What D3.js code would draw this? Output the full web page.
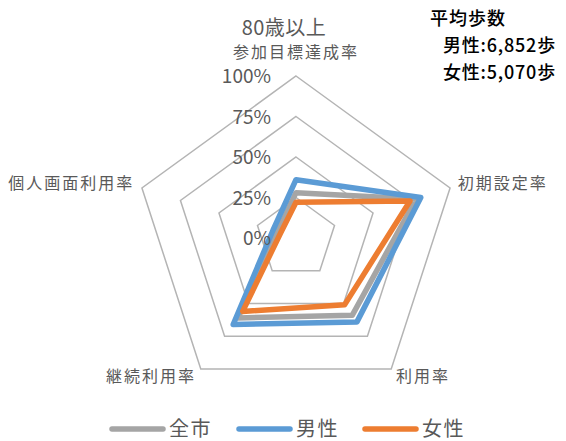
<!DOCTYPE html>
<html>
<head>
<meta charset="utf-8">
<script src="https://cdn.jsdelivr.net/npm/d3@7"></script>
<style>
  body { margin: 0; background: #fff; }
  text { font-family: "Noto Sans CJK JP", "Noto Sans", sans-serif; }
</style>
</head>
<body>
<div id="chart"></div>
<script>
const axisLabels = ["参加目標達成率", "初期設定率", "利用率", "継続利用率", "個人画面利用率"];
const seriesNames = ["全市", "男性", "女性"];
const cityValues = [0.28, 0.78, 0.59, 0.61, 0.12];
const maleValues = [0.36, 0.81, 0.64, 0.66, 0.15];
const femaleValues = [0.22, 0.74, 0.51, 0.56, 0.10];
const tickValues = [0, 0.25, 0.5, 0.75, 1];
const tickLabels = ["0%", "25%", "50%", "75%", "100%"];
const colors = ["#A5A5A5", "#5B9BD5", "#ED7D31"];
const title = "80歳以上";
const noteLines = ["平均歩数", "男性:6,852歩", "女性:5,070歩"];

const width = 566, height = 441;
const cx = 296, cy = 238, R = 162;

const svg = d3.select("#chart")
  .append("svg")
  .attr("width", width)
  .attr("height", height);

// Scales
const r = d3.scaleLinear().domain([0, 1]).range([0, R]);
const angle = d3.scalePoint()
  .domain(d3.range(axisLabels.length + 1))
  .range([0, 2 * Math.PI]);

const g = svg.append("g").attr("transform", `translate(${cx},${cy})`);

// Grid rings (pentagons)
const ring = d3.lineRadial()
  .angle((d, i) => angle(i))
  .radius((d) => r(d))
  .curve(d3.curveLinearClosed);

g.selectAll(".ring")
  .data(tickValues.filter((t) => t > 0))
  .enter()
  .append("path")
  .attr("class", "ring")
  .attr("d", (t) => ring(axisLabels.map(() => t)))
  .attr("fill", "none")
  .attr("stroke", "#B4B4B4")
  .attr("stroke-width", 1.5);

// Series
const series = [cityValues, maleValues, femaleValues];
g.selectAll(".series")
  .data(series)
  .enter()
  .append("path")
  .attr("class", "series")
  .attr("d", (vals) => ring(vals))
  .attr("fill", "none")
  .attr("stroke", (d, i) => colors[i])
  .attr("stroke-width", 5.5)
  .attr("stroke-linejoin", "round");

// Tick labels
g.selectAll(".tick")
  .data(tickValues)
  .enter()
  .append("text")
  .attr("x", -25)
  .attr("y", (t) => -r(t) + 7)
  .attr("text-anchor", "end")
  .attr("font-size", 19)
  .attr("fill", "#595959")
  .text((t, i) => tickLabels[i]);

// Axis labels
g.selectAll(".axis-label")
  .data(axisLabels)
  .enter()
  .append("text")
  .attr("class", "axis-label")
  .each(function (d, i) {
    const a = angle(i);
    const s = Math.sin(a), c = Math.cos(a);
    let x = s * (R + 8), y = -c * (R + 8);
    let anchor = "middle";
    if (s > 0.1) anchor = "start";
    if (s < -0.1) anchor = "end";
    if (c > 0.9) y = -R - 18;
    else if (c > 0) y += 4;
    else y += 6;
    d3.select(this)
      .attr("x", x)
      .attr("y", y)
      .attr("text-anchor", anchor);
  })
  .attr("font-size", 16)
  .attr("letter-spacing", 2)
  .attr("fill", "#595959")
  .text((d) => d);

// Title
svg.append("text")
  .attr("x", 284)
  .attr("y", 35)
  .attr("text-anchor", "middle")
  .attr("font-size", 20)
  .attr("letter-spacing", 0.5)
  .attr("fill", "#595959")
  .text(title);

// Note (top right)
svg.selectAll(".note")
  .data(noteLines)
  .enter()
  .append("text")
  .attr("x", (d, i) => (i === 0 ? 430 : 443))
  .attr("y", (d, i) => 25 + i * 27)
  .attr("font-size", 18)
  .attr("font-weight", 500)
  .attr("letter-spacing", (d, i) => (i === 0 ? 1 : 0.8))
  .attr("fill", "#000")
  .text((d) => d);

// Legend
const legendX = [110, 237, 363];
const legend = svg.selectAll(".legend")
  .data(seriesNames)
  .enter()
  .append("g")
  .attr("transform", (d, i) => `translate(${legendX[i]},429)`);

legend.append("line")
  .attr("x1", 2).attr("x2", 53)
  .attr("y1", 0).attr("y2", 0)
  .attr("stroke", (d, i) => colors[i])
  .attr("stroke-width", 5.5)
  .attr("stroke-linecap", "round");

legend.append("text")
  .attr("x", 59)
  .attr("y", 7)
  .attr("font-size", 20)
  .attr("letter-spacing", 1.5)
  .attr("fill", "#595959")
  .text((d) => d);
</script>
</body>
</html>
